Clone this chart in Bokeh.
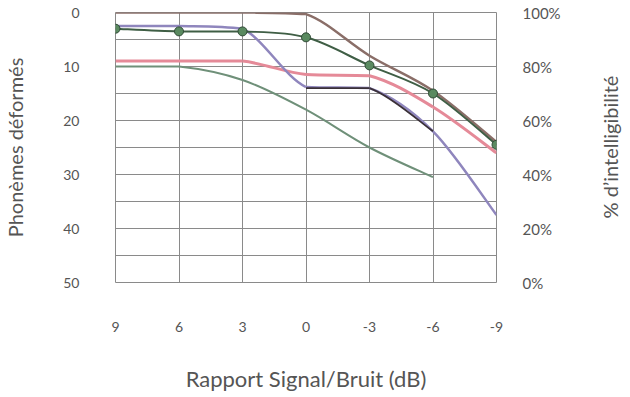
from bokeh.plotting import figure
from bokeh.models import Range1d, LinearAxis, FixedTicker, PrintfTickFormatter, Div
from bokeh.layouts import row
from bokeh.embed import file_html
from bokeh.resources import INLINE
import numpy as np

snr = [9, 6, 3, 0, -3, -6, -9]
x_labels = ["9", "6", "3", "0", "-3", "-6", "-9"]
left_ticks = [0, 10, 20, 30, 40, 50]
right_ticks = [0, 20, 40, 60, 80, 100]

s_brown = [0, 0, 0, 0.3, 8, 14.5, 24]
s_green = [3, 3.5, 3.5, 4.6, 9.8, 15, 24.5]
s_purple = [2.5, 2.5, 3, 13.8, 14, 22, 37.5]
s_black = [np.nan, np.nan, np.nan, 14, 14, 22, np.nan]
s_pink = [9, 9, 9, 11.5, 11.7, 17.5, 26]
s_grey = [10, 10, 12.5, 18, 25, 30.5, np.nan]

FONT = "Lato"
TXT = "#555555"

p = figure(frame_width=381, frame_height=270, output_backend="svg", toolbar_location=None,
           x_range=Range1d(9, -9), y_range=Range1d(50, 0),
           min_border_left=109, min_border_right=104, min_border_top=12, min_border_bottom=99)
p.extra_y_ranges = {"pct": Range1d(0, 100)}


def clamp(v, a, b):
    lo, hi = min(a, b), max(a, b)
    return min(max(v, lo), hi)


def smooth(xs, ys, color, width):
    # Smoothed line (Catmull-Rom Bezier segments, no overshoot) through the data points
    pts = [(x, y) for x, y in zip(xs, ys) if not np.isnan(y)]
    n = len(pts)
    x0, y0, x1, y1, cx0, cy0, cx1, cy1 = ([] for _ in range(8))
    for i in range(n - 1):
        pm = pts[max(i - 1, 0)]
        pa = pts[i]
        pb = pts[i + 1]
        pp = pts[min(i + 2, n - 1)]
        x0.append(pa[0]); y0.append(pa[1])
        x1.append(pb[0]); y1.append(pb[1])
        cx0.append(pa[0] + (pb[0] - pm[0]) / 6)
        cy0.append(clamp(pa[1] + (pb[1] - pm[1]) / 6, pa[1], pb[1]))
        cx1.append(pb[0] - (pp[0] - pa[0]) / 6)
        cy1.append(clamp(pb[1] - (pp[1] - pa[1]) / 6, pa[1], pb[1]))
    p.bezier(x0=x0, y0=y0, x1=x1, y1=y1, cx0=cx0, cy0=cy0, cx1=cx1, cy1=cy1,
             line_color=color, line_width=width)


smooth(snr, s_grey, "#6f9079", 2)
smooth(snr, s_pink, "#e58a98", 3)
smooth(snr, s_purple, "#8f86bd", 2.5)
smooth(snr, s_black, "#3a3038", 1.8)
smooth(snr, s_brown, "#8a6e68", 2.5)
smooth(snr, s_green, "#3f5e45", 2)
p.scatter(snr, s_green, size=9, fill_color="#5a8a60", line_color="#2f4a35")

p.xaxis.ticker = FixedTicker(ticks=snr)
p.xaxis.major_label_overrides = {v: l for v, l in zip(snr, x_labels)}
p.yaxis.ticker = FixedTicker(ticks=left_ticks)

right = LinearAxis(y_range_name="pct", ticker=FixedTicker(ticks=right_ticks),
                   formatter=PrintfTickFormatter(format="%d%%"))
p.add_layout(right, "right")

for ax in [p.xaxis[0], p.yaxis[0], right]:
    ax.axis_line_color = None
    ax.major_tick_line_color = None
    ax.minor_tick_line_color = None
    ax.major_label_text_font = FONT
    ax.major_label_text_color = TXT
    ax.major_label_text_font_size = "14px"
    ax.axis_label_text_font = FONT
    ax.axis_label_text_color = TXT
    ax.axis_label_text_font_style = "normal"
    ax.axis_label_text_font_size = "20px"

p.xaxis.major_label_standoff = 33
p.xaxis.axis_label = "Rapport Signal/Bruit (dB)"
p.xaxis.axis_label_standoff = 30
p.xaxis.axis_label_text_font_size = "22px"
p.yaxis[0].major_label_standoff = 30
p.yaxis[0].axis_label = "Phonèmes déformés"
p.yaxis[0].axis_label_standoff = 33
right.major_label_standoff = 20
right.major_label_text_font_size = "15px"

p.xgrid.ticker = FixedTicker(ticks=snr)
p.ygrid.ticker = FixedTicker(ticks=list(range(0, 51, 5)))
p.xgrid.grid_line_color = "#8a8a8a"
p.ygrid.grid_line_color = "#8a8a8a"
p.outline_line_color = "#8a8a8a"

right_title = Div(
    text=('<div style="position:relative;width:20px;height:381px;">'
          '<div style="position:absolute;left:10px;top:147px;'
          'transform:translate(-50%,-50%) rotate(-90deg);white-space:nowrap;'
          'font-family:Lato;font-size:20px;color:#555555;line-height:20px;">'
          '% d’intelligibilité</div></div>'),
    width=20, height=381, margin=0)

layout = row(p, right_title, spacing=0)

open("out.html", "w").write(file_html(layout, INLINE))
